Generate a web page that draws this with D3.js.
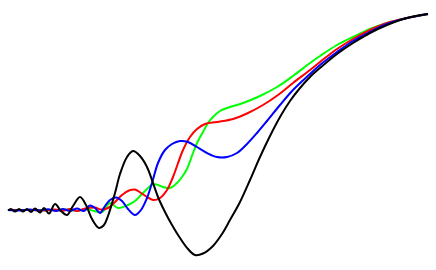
<!DOCTYPE html>
<html>
<head>
<meta charset="utf-8">
<script src="https://cdn.jsdelivr.net/npm/d3@7"></script>
<style>
html, body { margin: 0; padding: 0; background: #fff; }
svg { display: block; }
</style>
</head>
<body>
<script>
var w = 436;
var h = 270;

// values (x along, y height above the flat start)
var blackX = [0, 3, 7, 11, 15, 19, 23, 27, 32, 36, 41, 47, 53, 59, 65, 72, 78, 84, 91, 96, 100, 107, 112, 119, 125, 132, 139, 145, 150, 157, 164, 172, 180, 187, 195, 205, 214, 222, 232, 242, 252, 262, 272, 282, 292, 302, 312, 329, 345, 362, 379, 399, 420];
var blackY = [-0.5, 1, -1.5, 1, -1.5, 1, -2, 1.5, -2.5, 2, -3.5, 6, -1, -5, 4, 13, 5, -9, -18, -15, -6, 17, 36, 53, 59, 54, 43, 27, 13, -2, -15, -28, -39, -45, -43.5, -36, -24, -10, 8, 30, 53, 74, 93, 109, 122, 133, 142, 156, 167, 177, 185, 192, 196];

var blueX = [0, 12, 22, 32, 40, 48, 55, 62, 69, 76, 82, 87, 92, 97, 102, 108, 114, 120, 127, 133, 139, 144, 150, 157, 164, 172, 180, 189, 199, 209, 219, 229, 239, 249, 259, 272, 285, 302, 312, 329, 345, 362, 379, 399, 420];
var blueY = [0, -0.5, 0.5, -0.5, 0.7, -1, 1, -1, 1.5, -1, 4.5, 2, -3, 4, 10, 12.5, 9, 1, -5, 0, 12, 27, 47, 60, 66, 69, 68, 63, 57, 53, 53, 57, 66, 77, 89, 105, 120, 136, 145, 158, 169, 178, 186, 192, 196];

var redX = [0, 22, 37, 47, 55, 62, 69, 77, 87, 93, 100, 107, 114, 121, 127, 133, 139, 145, 152, 159, 165, 175, 182, 189, 197, 209, 225, 240, 255, 270, 285, 302, 312, 329, 345, 362, 379, 399, 420];
var redY = [0, 0, -0.5, 0.5, -0.8, 1, -1, 1.5, 2.5, 0.5, 2, 8, 15, 19.5, 20.5, 17, 13, 10, 12, 20, 33, 60, 73, 81, 86, 88, 91, 97, 105, 115, 127, 140, 148, 161, 171, 180, 187, 192, 196];

var greenX = [0, 32, 52, 62, 70, 78, 86, 94, 102, 110, 120, 127, 133, 139, 145, 150, 155, 162, 169, 174, 179, 185, 190, 195, 200, 205, 212, 219, 235, 252, 269, 285, 302, 312, 329, 345, 362, 379, 399, 420];
var greenY = [0, 0, 0, 0.5, -0.8, 1, -1, -2, 7, 2, 5, 9, 15, 21, 26, 25, 23, 22, 27, 33, 41, 57, 69, 78, 87, 93, 99, 102, 107, 114, 123, 134, 147, 154, 165, 173, 181, 187, 192, 196];

var series = [
    { name: 'green', color: '#00ff00', xs: greenX, ys: greenY },
    { name: 'red', color: '#ff0000', xs: redX, ys: redY },
    { name: 'blue', color: '#0000ff', xs: blueX, ys: blueY },
    { name: 'black', color: '#000000', xs: blackX, ys: blackY }
];

var x = d3.scaleLinear().domain([0, 420]).range([8, 428]);
var y = d3.scaleLinear().domain([0, 200]).range([210, 10]);

var line = d3.line()
.x(function(d) { return x(d[0]); })
.y(function(d) { return y(d[1]); })
.curve(d3.curveCatmullRom.alpha(0.5));

var svg = d3
.select('body')
.append('svg')
.attr('width', w)
.attr('height', h);

svg.selectAll('path')
.data(series)
.enter()
.append('path')
.attr('fill', 'none')
.attr('stroke', function(d) { return d.color; })
.attr('stroke-width', 2)
.attr('stroke-linejoin', 'round')
.attr('d', function(d) {
    return line(d.xs.map(function(v, i) { return [v, d.ys[i]]; }));
});
</script>
</body>
</html>
